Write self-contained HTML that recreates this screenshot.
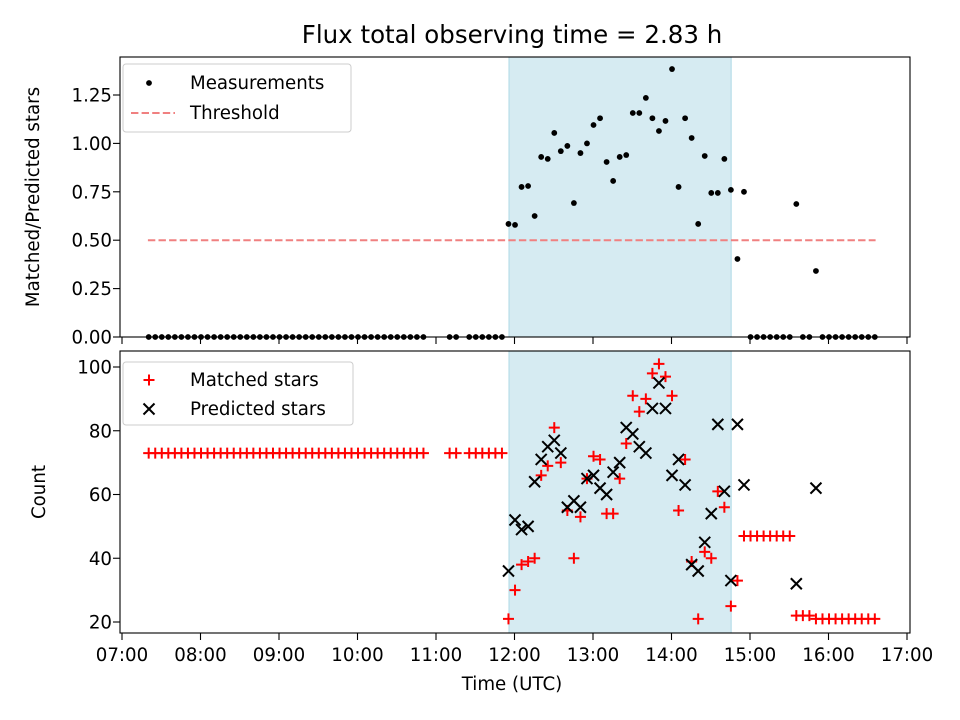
<!DOCTYPE html>
<html><head><meta charset="utf-8"><style>
body{margin:0;background:#fff;}
svg{display:block;font-family:"DejaVu Sans","Liberation Sans",sans-serif;}
svg text{font-size:18.2px;}
svg text.title{font-size:24.5px;}
</style></head><body>
<svg id="chart" width="960" height="720" viewBox="0 0 960 720"></svg>
<script>
// Sample index k -> time = START_H + k * 5 min
const START_H = 7.34;
const STEP_H = 5/60;
// Top panel: ratio samples
const ratioK = [0,1,2,3,4,5,6,7,8,9,10,11,12,13,14,15,16,17,18,19,20,21,22,23,24,25,26,27,28,29,30,31,32,33,34,35,36,37,38,39,40,41,42,46,47,49,50,51,52,53,54,
 55,56,57,58,59,60,61,62,63,64,65,66,67,68,69,70,71,72,73,74,75,76,77,78,79,80,81,82,83,84,85,86,87,88,89,90,91,
 92,93,94,95,96,97,98,99,100,101,102,103,104,105,106,107,108,109,110,111];
const ratioV = [0,0,0,0,0,0,0,0,0,0,0,0,0,0,0,0,0,0,0,0,0,0,0,0,0,0,0,0,0,0,0,0,0,0,0,0,0,0,0,0,0,0,0,0,0,0,0,0,0,0,0,
 0.584,0.579,0.775,0.78,0.625,0.93,0.92,1.054,0.96,0.987,0.692,0.95,1.0,1.095,1.13,0.904,0.806,0.93,0.94,1.157,1.157,1.235,1.13,1.064,1.116,1.384,0.775,1.13,1.028,0.584,0.935,0.744,0.744,0.92,0.76,0.403,0.75,
 0,0,0,0,0,0,0,0.687,0,0,0.341,0,0,0,0,0,0,0,0,0];
// Bottom panel: matched stars
const matchedK = [0,1,2,3,4,5,6,7,8,9,10,11,12,13,14,15,16,17,18,19,20,21,22,23,24,25,26,27,28,29,30,31,32,33,34,35,36,37,38,39,40,41,42,46,47,49,50,51,52,53,54,
 55,56,57,58,59,60,61,62,63,64,65,66,67,68,69,70,71,72,73,74,75,76,77,78,79,80,81,82,83,84,85,86,87,88,89,90,91,
 92,93,94,95,96,97,98,99,100,101,102,103,104,105,106,107,108,109,110,111];
const matchedV = [73,73,73,73,73,73,73,73,73,73,73,73,73,73,73,73,73,73,73,73,73,73,73,73,73,73,73,73,73,73,73,73,73,73,73,73,73,73,73,73,73,73,73,73,73,73,73,73,73,73,73,
 21,30,38,39,40,66,69,81,70,55,40,53,65,72,71,54,54,65,76,91,86,90,98,101,97,91,55,71,39,21,42,40,61,56,25,33,47,
 47,47,47,47,47,47,47,22,22,22,21,21,21,21,21,21,21,21,21,21];
// Bottom panel: predicted stars
const predK = [55,56,57,58,59,60,61,62,63,64,65,66,67,68,69,70,71,72,73,74,75,76,77,78,79,80,81,82,83,84,85,86,87,88,89,90,91,99,102];
const predV = [36,52,49,50,64,71,75,77,73,56,58,56,65,66,62,60,67,70,81,79,75,73,87,95,87,66,71,63,38,36,45,54,82,61,33,82,63,32,62];
const xTicks = ["07:00","08:00","09:00","10:00","11:00","12:00","13:00","14:00","15:00","16:00","17:00"];
const topTicks = [0,0.25,0.5,0.75,1.0,1.25];
const botTicks = [20,40,60,80,100];
const shadeStart = 11.93, shadeEnd = 14.76, threshold = 0.5;

const NS="http://www.w3.org/2000/svg", svg=document.getElementById('chart');
function mk(tag, attrs, parent){const e=document.createElementNS(NS,tag);for(const k in attrs)e.setAttribute(k,attrs[k]);(parent||svg).appendChild(e);return e;}
const L=120,R=910;
const xS=h=>122+(h-7)*78.5;
const tH=k=>START_H+k*STEP_H;
const T={top:57,bot:337,y:v=>337-v*193.6};
const B={top:351,bot:633,y:v=>622-(v-20)*3.1875};

let t=mk('text',{x:512,y:43,'text-anchor':'middle',fill:'#000','class':'title'});


t.textContent='Flux total observing time = 2.83 h';

function panel(P,ticks,fmt,name){
  const g=mk('g',{});
  
  
  const sh=mk('rect',{x:xS(shadeStart),y:P.top,width:xS(shadeEnd)-xS(shadeStart),height:P.bot-P.top,fill:'#add8e6','fill-opacity':0.5,stroke:'#add8e6','stroke-width':1},g);
  
  
  ticks.forEach(v=>{const y=P.y(v);
    mk('line',{x1:L-7,x2:L,y1:y,y2:y,stroke:'#000','stroke-width':1.1},g);
    const tl=mk('text',{x:L-8,y:y+6.5,'text-anchor':'end'},g);
    
    
    tl.textContent=fmt(v);});
  xTicks.forEach((s,i)=>{const x=xS(7+i);mk('line',{x1:x,x2:x,y1:P.bot,y2:P.bot+7,stroke:'#000','stroke-width':1.1},g);});
  return g;
}
function frame(P,g){mk('rect',{x:L,y:P.top,width:R-L,height:P.bot-P.top,fill:'none',stroke:'#000','stroke-width':1.1},g);}

// TOP
const gt=panel(T,topTicks,v=>v.toFixed(2),'top-panel');
const th=mk('line',{x1:xS(7.33),x2:xS(16.6),y1:T.y(threshold),y2:T.y(threshold),stroke:'#f08080','stroke-width':2,'stroke-dasharray':'7.4,3.2'},gt);


ratioK.forEach((k,i)=>{const c=mk('circle',{cx:xS(tH(k)),cy:T.y(ratioV[i]),r:2.9,fill:'#000'},gt);
  
  });
frame(T,gt);
let yl=mk('text',{x:39,y:197,'text-anchor':'middle',transform:'rotate(-90 39 197)'});


yl.textContent='Matched/Predicted stars';

// BOTTOM
const gb=panel(B,botTicks,v=>String(v),'bottom-panel');
function plus(x,y,g,c){mk('path',{d:`M${x-5.5},${y}H${x+5.5}M${x},${y-5.5}V${y+5.5}`,stroke:c,'stroke-width':2,fill:'none'},g);}
function cross(x,y,g,c){mk('path',{d:`M${x-5.5},${y-5.5}L${x+5.5},${y+5.5}M${x-5.5},${y+5.5}L${x+5.5},${y-5.5}`,stroke:c,'stroke-width':2,fill:'none'},g);}
matchedK.forEach((k,i)=>{const g=mk('g',{},gb);
  
  
  plus(xS(tH(k)),B.y(matchedV[i]),g,'#ff0000');});
predK.forEach((k,i)=>{const g=mk('g',{},gb);
  
  
  cross(xS(tH(k)),B.y(predV[i]),g,'#000');});
frame(B,gb);
xTicks.forEach((s,i)=>{const tx=mk('text',{x:xS(7+i),y:661,'text-anchor':'middle'});
  
  
  tx.textContent=s;});
let yb=mk('text',{x:45,y:492,'text-anchor':'middle',transform:'rotate(-90 45 492)'});


yb.textContent='Count';
let xl=mk('text',{x:512,y:690,'text-anchor':'middle'});


xl.textContent='Time (UTC)';

// Legends
function legend(x,y,w,h,name){const g=mk('g',{});
  
  
  mk('rect',{x:x,y:y,width:w,height:h,rx:3,fill:'#fff','fill-opacity':0.8,stroke:'#ccc','stroke-width':1},g);return g;}
function ltext(g,x,y,s){const e=mk('text',{x:x,y:y},g);
  
  
  e.textContent=s;}
const lg1=legend(123,64,228,68,'top-legend');
mk('circle',{cx:149,cy:83,r:2.9,fill:'#000'},lg1);ltext(lg1,190,89,'Measurements');
mk('line',{x1:131,x2:175,y1:113,y2:113,stroke:'#f08080','stroke-width':2,'stroke-dasharray':'7.4,3.2'},lg1);ltext(lg1,190,119,'Threshold');
const lg2=legend(123,362,230,63,'bottom-legend');
plus(149,380,lg2,'#ff0000');ltext(lg2,190,386,'Matched stars');
cross(149,409,lg2,'#000');ltext(lg2,190,415,'Predicted stars');
</script>
</body></html>
